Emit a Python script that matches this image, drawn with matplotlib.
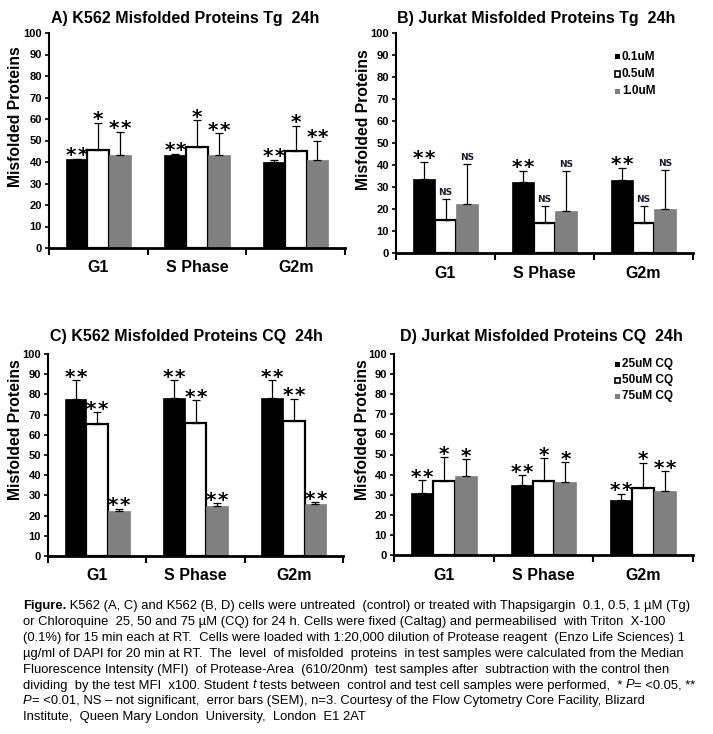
import re
import numpy as np
import matplotlib
matplotlib.use('Agg')
import matplotlib.pyplot as plt
from matplotlib.patches import Rectangle

FONT = 'Liberation Sans'
plt.rcParams['font.family'] = [FONT, 'DejaVu Sans']

# ---------------- data ----------------
categories = ['G1', 'S Phase', 'G2m']
yticks = list(range(0, 101, 10))
tg_labels = ['0.1uM', '0.5uM', '1.0uM']
cq_labels = ['25uM CQ', '50uM CQ', '75uM CQ']

# A) K562 Tg
a_low = [41.2, 43.1, 39.8]
a_low_err = [0.3, 0.7, 1.3]
a_mid = [45.4, 46.9, 45.1]
a_mid_err = [12.8, 12.5, 11.7]
a_high = [43.1, 43.1, 40.8]
a_high_err = [10.9, 10.3, 9.0]
a_sig_low = ['**', '**', '**']
a_sig_mid = ['*', '*', '*']
a_sig_high = ['**', '**', '**']

# B) Jurkat Tg
b_low = [33.8, 32.1, 33.0]
b_low_err = [7.6, 5.3, 5.8]
b_mid = [15.2, 13.8, 13.8]
b_mid_err = [9.5, 7.6, 7.6]
b_high = [22.1, 18.9, 19.8]
b_high_err = [18.5, 18.5, 18.1]
b_sig_low = ['**', '**', '**']
b_sig_mid = ['NS', 'NS', 'NS']
b_sig_high = ['NS', 'NS', 'NS']

# C) K562 CQ
c_low = [77.6, 78.2, 78.2]
c_low_err = [9.4, 8.8, 8.8]
c_mid = [65.3, 66.0, 67.0]
c_mid_err = [5.8, 11.1, 10.9]
c_high = [22.1, 24.8, 25.7]
c_high_err = [1.3, 1.3, 0.9]
c_sig_low = ['**', '**', '**']
c_sig_mid = ['**', '**', '**']
c_sig_high = ['**', '**', '**']

# D) Jurkat CQ
d_low = [30.7, 34.8, 27.3]
d_low_err = [6.5, 4.9, 3.2]
d_mid = [36.7, 36.7, 33.5]
d_mid_err = [12.0, 11.5, 12.3]
d_high = [39.3, 36.3, 31.8]
d_high_err = [8.4, 9.9, 9.9]
d_sig_low = ['**', '**', '**']
d_sig_mid = ['*', '*', '*']
d_sig_high = ['*', '*', '**']

titles = ['A) K562 Misfolded Proteins Tg  24h',
          'B) Jurkat Misfolded Proteins Tg  24h',
          'C) K562 Misfolded Proteins CQ  24h',
          'D) Jurkat Misfolded Proteins CQ  24h']
ylabel = 'Misfolded Proteins'

caption_lines = [
    '#Figure.# K562 (A, C) and K562 (B, D) cells were untreated  (control) or treated with Thapsigargin  0.1, 0.5, 1 \u00b5M (Tg)',
    'or Chloroquine  25, 50 and 75 \u00b5M (CQ) for 24 h. Cells were fixed (Caltag) and permeabilised  with Triton  X-100',
    '(0.1%) for 15 min each at RT.  Cells were loaded with 1:20,000 dilution of Protease reagent  (Enzo Life Sciences) 1',
    '\u00b5g/ml of DAPI for 20 min at RT.  The  level  of misfolded  proteins  in test samples were calculated from the Median',
    'Fluorescence Intensity (MFI)  of Protease-Area  (610/20nm)  test samples after  subtraction with the control then',
    'dividing  by the test MFI  x100. Student _t_ tests between  control and test cell samples were performed,  * _P_= <0.05, **',
    '_P_= <0.01, NS \u2013 not significant,  error bars (SEM), n=3. Courtesy of the Flow Cytometry Core Facility, Blizard',
    'Institute,  Queen Mary London  University,  London  E1 2AT',
]

# ---------------- layout ----------------
W, H = 713, 734
fig = plt.figure(figsize=(W / 100, H / 100), dpi=100)


def fr(x0, y_top, x1, y_bot):
    return [x0 / W, 1 - y_bot / H, (x1 - x0) / W, (y_bot - y_top) / H]


panels = [
    dict(rect=fr(49, 33, 345, 248), title_xy=(51, 18), ylab_xy=(16, 117),
         series=[a_low, a_mid, a_high], errs=[a_low_err, a_mid_err, a_high_err],
         sigs=[a_sig_low, a_sig_mid, a_sig_high], labels=tg_labels, legend=None),
    dict(rect=fr(396, 33, 693, 253), title_xy=(397, 18), ylab_xy=(364, 120),
         series=[b_low, b_mid, b_high], errs=[b_low_err, b_mid_err, b_high_err],
         sigs=[b_sig_low, b_sig_mid, b_sig_high], labels=tg_labels,
         legend=(613, 56, 17.5)),
    dict(rect=fr(48, 354, 343, 556), title_xy=(50, 337), ylab_xy=(16, 430),
         series=[c_low, c_mid, c_high], errs=[c_low_err, c_mid_err, c_high_err],
         sigs=[c_sig_low, c_sig_mid, c_sig_high], labels=cq_labels, legend=None),
    dict(rect=fr(394, 354, 693, 555), title_xy=(400, 337), ylab_xy=(363, 430),
         series=[d_low, d_mid, d_high], errs=[d_low_err, d_mid_err, d_high_err],
         sigs=[d_sig_low, d_sig_mid, d_sig_high], labels=cq_labels,
         legend=(613, 364, 16)),
]

face = ['black', 'white', '#808080']
edge = ['black', 'black', '#808080']
lw = [0.5, 1.6, 0.5]
bw = 0.22
STAR_PITCH = 8.5  # points between the two stars of "**"

for k, p in enumerate(panels):
    ax = fig.add_axes(p['rect'])
    xc = np.arange(len(categories)) + 0.5
    for i in range(3):
        xs = xc + (i - 1) * bw
        vals = p['series'][i]
        err = p['errs'][i]
        ax.bar(xs, vals, bw, color=face[i], edgecolor=edge[i],
               linewidth=lw[i], zorder=2, label=p['labels'][i])
        ax.errorbar(xs, vals, yerr=[np.zeros(len(vals)), err], fmt='none',
                    ecolor='black', elinewidth=0.9, capsize=2.6, capthick=0.9,
                    zorder=3)
        for xx, v, e, s in zip(xs, vals, err, p['sigs'][i]):
            if s == 'NS':
                ax.annotate(s, xy=(xx, v + e), xytext=(0, 1.2),
                            textcoords='offset points', ha='center', va='bottom',
                            fontsize=6.5, fontweight='bold', color='#1a1a2e',
                            family=['DejaVu Sans Condensed', 'DejaVu Sans'])
            else:
                n = len(s)
                for j in range(n):
                    off = (j - (n - 1) / 2) * STAR_PITCH
                    ax.annotate('*', xy=(xx, v + e), xytext=(off, 2.2),
                                textcoords='offset points', ha='center', va='center',
                                fontsize=14.5, fontweight='bold', color='black',
                                family=['DejaVu Sans'])
    ax.set_xlim(0, 3)
    ax.set_ylim(0, 100)
    ax.set_yticks(yticks)
    ax.set_yticklabels([str(t) for t in yticks], fontsize=8, fontweight='bold')
    ax.set_xticks([0, 1, 2, 3])
    ax.set_xticklabels([])
    ax.set_xticks(xc, minor=True)
    ax.set_xticklabels(categories, minor=True, fontsize=11.5, fontweight='bold')
    ax.tick_params(axis='x', which='major', direction='out', length=5, width=1.5)
    ax.tick_params(axis='x', which='minor', length=0, pad=9)
    ax.tick_params(axis='y', direction='out', length=3, width=1.2, pad=2)
    for s in ['top', 'right']:
        ax.spines[s].set_visible(False)
    ax.spines['left'].set_linewidth(1.5)
    ax.spines['bottom'].set_linewidth(2.0)
    ax.set_facecolor('none')

    fig.text(p['title_xy'][0] / W, 1 - p['title_xy'][1] / H, titles[k],
             fontsize=11.5, fontweight='bold', ha='left', va='center')
    fig.text(p['ylab_xy'][0] / W, 1 - p['ylab_xy'][1] / H, ylabel,
             fontsize=11.3, fontweight='bold', rotation=90, ha='center', va='center')

    if p['legend'] is not None:
        lx, ly, sp = p['legend']
        for i, lab in enumerate(p['labels']):
            yy = ly + i * sp
            fig.patches.append(Rectangle(((lx + 2) / W, 1 - (yy + 3) / H), 5 / W, 5 / H,
                                         transform=fig.transFigure,
                                         facecolor=face[i], edgecolor='black' if i == 1 else face[i],
                                         linewidth=1.2 if i == 1 else 0))
            fig.text((lx + 9) / W, 1 - (yy + 0.5) / H, lab, fontsize=8.5,
                     fontweight='bold', ha='left', va='center')

# ---------------- caption ----------------
fig.canvas.draw()
renderer = fig.canvas.get_renderer()
x_start = 23
y0 = 606
dy = 15.9
CAP_FS = 9.35
for li, line in enumerate(caption_lines):
    yb = 1 - (y0 + li * dy) / H
    pieces = re.split(r'(_[^_]+_|#[^#]+#)', line)
    xcur = x_start
    for piece in pieces:
        if not piece:
            continue
        style, weight = 'normal', 'normal'
        if piece.startswith('_'):
            piece = piece[1:-1]
            style = 'italic'
        elif piece.startswith('#'):
            piece = piece[1:-1]
            weight = 'bold'
        fig.text(xcur / W, yb, piece, fontsize=CAP_FS, fontstyle=style,
                 fontweight=weight, ha='left', va='center', color='black')
        ref = fig.text(0, 0, '|' + piece + '|', fontsize=CAP_FS, fontstyle=style,
                       fontweight=weight)
        bar_ref = fig.text(0, 0, '||', fontsize=CAP_FS, fontstyle=style,
                           fontweight=weight)
        wpx = ref.get_window_extent(renderer).width - bar_ref.get_window_extent(renderer).width
        ref.remove()
        bar_ref.remove()
        xcur += wpx

fig.savefig('out.png', dpi=100)
